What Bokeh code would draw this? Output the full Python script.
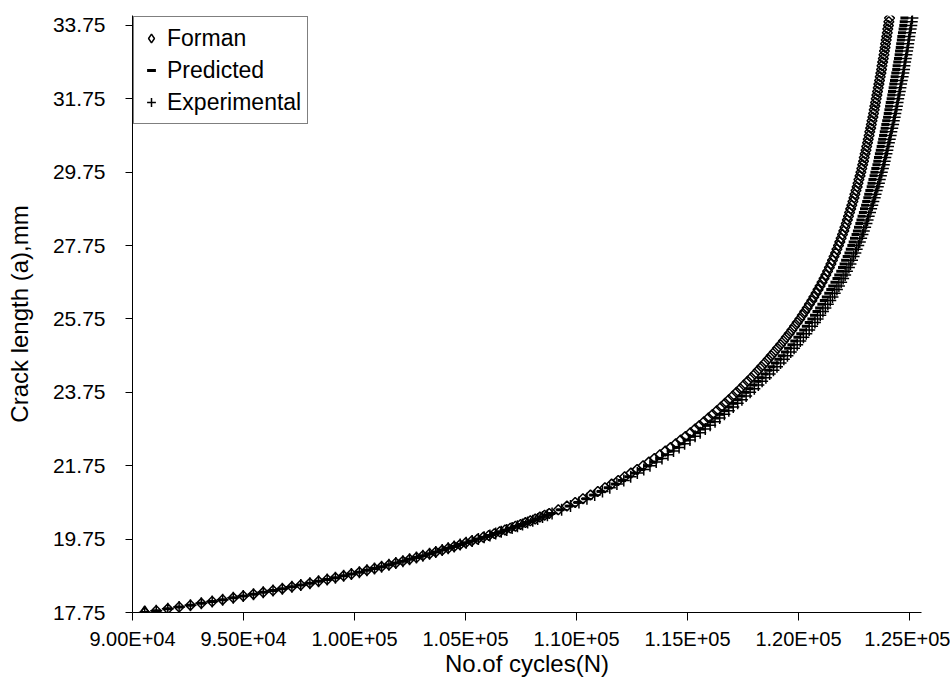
from bokeh.plotting import figure
from bokeh.models import Range1d, FixedTicker, Legend, LegendItem
from bokeh.embed import file_html
from bokeh.resources import INLINE

# crack length a (mm), shared by the three series
crack_length = [
    17.75, 17.80, 17.85, 17.90, 17.95, 18.00, 18.05, 18.10, 18.15, 18.20,
    18.25, 18.30, 18.35, 18.40, 18.45, 18.50, 18.55, 18.60, 18.65, 18.70,
    18.75, 18.80, 18.85, 18.90, 18.95, 19.00, 19.05, 19.10, 19.15, 19.20,
    19.25, 19.30, 19.35, 19.40, 19.45, 19.50, 19.55, 19.60, 19.65, 19.70,
    19.75, 19.80, 19.85, 19.90, 19.95, 20.00, 20.05, 20.10, 20.15, 20.20,
    20.25, 20.30, 20.35, 20.40, 20.45,
    20.55, 20.65, 20.75, 20.85, 20.95,
    21.05, 21.15, 21.25, 21.35, 21.45, 21.55, 21.65, 21.75, 21.85, 21.95,
    22.05, 22.15, 22.25, 22.35, 22.45, 22.55, 22.65, 22.75, 22.85, 22.95,
    23.05, 23.15, 23.25, 23.35, 23.45, 23.55, 23.65, 23.75, 23.85, 23.95,
    24.05, 24.15, 24.25, 24.35, 24.45, 24.55, 24.65, 24.75, 24.85, 24.95,
    25.05, 25.15, 25.25, 25.35, 25.45, 25.55, 25.65, 25.75, 25.85, 25.95,
    26.05, 26.15, 26.25, 26.35, 26.45, 26.55, 26.65, 26.75, 26.85, 26.95,
    27.05, 27.15, 27.25, 27.35, 27.45, 27.55, 27.65, 27.75, 27.85, 27.95,
    28.05, 28.15, 28.25, 28.35, 28.45, 28.55, 28.65, 28.75, 28.85, 28.95,
    29.05, 29.15, 29.25, 29.35, 29.45, 29.55, 29.65, 29.75, 29.85, 29.95,
    30.05, 30.15, 30.25, 30.35, 30.45, 30.55, 30.65, 30.75, 30.85, 30.95,
    31.05, 31.15, 31.25, 31.35, 31.45, 31.55, 31.65, 31.75, 31.85, 31.95,
    32.05, 32.15, 32.25, 32.35, 32.45, 32.55, 32.65, 32.75, 32.85, 32.95,
    33.05, 33.15, 33.25, 33.35, 33.45, 33.55, 33.65, 33.75, 33.85, 33.95,
]

# number of cycles N for each crack length
forman = [
    90550, 91070, 91590, 92100, 92610, 93100, 93590, 94060, 94540, 94990,
    95450, 95890, 96330, 96750, 97180, 97580, 97990, 98380, 98770, 99140,
    99510, 99860, 100220, 100560, 100900, 101220, 101550, 101860, 102180, 102480,
    102790, 103080, 103380, 103660, 103950, 104220, 104490, 104750, 105010, 105280,
    105540, 105800, 106050, 106300, 106540, 106780, 107020, 107250, 107480, 107700,
    107920, 108140, 108350, 108560, 108770,
    109180, 109570, 109940, 110290, 110630,
    110960, 111280, 111580, 111880, 112170, 112450, 112730, 113000, 113260, 113510,
    113760, 114000, 114240, 114470, 114690, 114910, 115130, 115340, 115540, 115740,
    115940, 116130, 116320, 116510, 116690, 116860, 117040, 117210, 117380, 117540,
    117710, 117870, 118030, 118180, 118330, 118480, 118630, 118770, 118910, 119050,
    119190, 119320, 119450, 119580, 119700, 119820, 119940, 120060, 120170, 120280,
    120390, 120490, 120600, 120690, 120790, 120880, 120970, 121060, 121150, 121230,
    121310, 121390, 121460, 121530, 121600, 121670, 121730, 121800, 121860, 121920,
    121980, 122040, 122090, 122150, 122200, 122250, 122300, 122350, 122400, 122450,
    122500, 122540, 122590, 122640, 122680, 122720, 122770, 122810, 122850, 122890,
    122930, 122960, 123000, 123040, 123070, 123110, 123140, 123180, 123210, 123250,
    123280, 123310, 123350, 123380, 123410, 123440, 123470, 123500, 123530, 123560,
    123590, 123620, 123650, 123680, 123710, 123740, 123760, 123790, 123820, 123850,
    123870, 123900, 123920, 123950, 123970, 124000, 124020, 124050, 124070, 124100,
]

predicted = [
    90550, 91070, 91590, 92100, 92610, 93100, 93590, 94060, 94540, 94990,
    95450, 95890, 96330, 96750, 97180, 97580, 97990, 98380, 98770, 99140,
    99510, 99860, 100220, 100560, 100900, 101220, 101550, 101860, 102180, 102480,
    102790, 103080, 103380, 103660, 103950, 104220, 104490, 104760, 105020, 105290,
    105560, 105820, 106080, 106340, 106590, 106830, 107070, 107310, 107540, 107770,
    107990, 108210, 108430, 108650, 108860,
    109270, 109670, 110050, 110410, 110760,
    111090, 111420, 111740, 112050, 112340, 112630, 112920, 113200, 113470, 113730,
    113990, 114240, 114490, 114730, 114960, 115190, 115420, 115640, 115850, 116060,
    116270, 116470, 116670, 116870, 117060, 117240, 117430, 117610, 117790, 117960,
    118140, 118300, 118470, 118630, 118780, 118940, 119090, 119240, 119390, 119530,
    119680, 119810, 119950, 120080, 120210, 120330, 120460, 120580, 120700, 120810,
    120930, 121030, 121140, 121230, 121340, 121430, 121520, 121620, 121710, 121790,
    121880, 121960, 122030, 122100, 122170, 122250, 122310, 122380, 122440, 122500,
    122570, 122630, 122680, 122740, 122790, 122840, 122900, 122950, 123000, 123050,
    123100, 123140, 123190, 123250, 123290, 123330, 123380, 123420, 123460, 123510,
    123550, 123580, 123620, 123660, 123700, 123740, 123770, 123810, 123840, 123880,
    123910, 123950, 123990, 124020, 124050, 124080, 124110, 124150, 124180, 124210,
    124240, 124270, 124300, 124330, 124360, 124400, 124420, 124450, 124480, 124510,
    124530, 124560, 124580, 124610, 124630, 124660, 124690, 124720, 124740, 124770,
]

experimental = [
    90550, 91070, 91590, 92100, 92610, 93100, 93590, 94060, 94540, 94990,
    95450, 95890, 96330, 96750, 97180, 97580, 97990, 98380, 98770, 99140,
    99510, 99860, 100220, 100560, 100900, 101220, 101550, 101860, 102180, 102480,
    102790, 103080, 103380, 103660, 103950, 104220, 104490, 104760, 105030, 105300,
    105580, 105840, 106100, 106360, 106610, 106860, 107100, 107340, 107570, 107800,
    108030, 108250, 108470, 108690, 108900,
    109330, 109730, 110110, 110470, 110820,
    111170, 111500, 111820, 112130, 112440, 112740, 113030, 113310, 113590, 113850,
    114120, 114370, 114620, 114870, 115110, 115340, 115570, 115800, 116020, 116240,
    116450, 116660, 116860, 117060, 117260, 117450, 117640, 117820, 118010, 118190,
    118360, 118530, 118700, 118870, 119030, 119190, 119340, 119500, 119650, 119800,
    119940, 120080, 120220, 120350, 120480, 120610, 120740, 120860, 120980, 121100,
    121210, 121320, 121430, 121530, 121630, 121730, 121820, 121920, 122010, 122100,
    122180, 122270, 122340, 122410, 122480, 122560, 122620, 122690, 122760, 122820,
    122880, 122940, 123000, 123060, 123110, 123160, 123220, 123270, 123320, 123370,
    123430, 123470, 123520, 123570, 123620, 123660, 123710, 123750, 123800, 123840,
    123880, 123910, 123960, 124000, 124030, 124070, 124110, 124150, 124180, 124220,
    124260, 124290, 124330, 124360, 124400, 124430, 124460, 124490, 124530, 124560,
    124590, 124620, 124650, 124690, 124720, 124750, 124770, 124800, 124830, 124860,
    124890, 124920, 124940, 124970, 124990, 125020, 125050, 125080, 125100, 125130,
]

x_ticks = [90000, 95000, 100000, 105000, 110000, 115000, 120000, 125000]
x_tick_labels = ["9.00E+04", "9.50E+04", "1.00E+05", "1.05E+05",
                 "1.10E+05", "1.15E+05", "1.20E+05", "1.25E+05"]
y_ticks = [17.75, 19.75, 21.75, 23.75, 25.75, 27.75, 29.75, 31.75, 33.75]
y_tick_labels = ["17.75", "19.75", "21.75", "23.75", "25.75",
                 "27.75", "29.75", "31.75", "33.75"]

series_names = ["Forman", "Predicted", "Experimental"]

FONT = "Liberation Sans"

p = figure(width=950, height=684, output_backend="svg", toolbar_location=None,
           x_range=Range1d(90000, 125540), y_range=Range1d(17.75, 34.02),
           min_border_left=132, min_border_right=29, min_border_top=15,
           min_border_bottom=72)
p.outline_line_color = None
p.xgrid.visible = False
p.ygrid.visible = False
p.background_fill_color = "white"
p.border_fill_color = "white"

# Forman: open diamonds (squares turned by 45 degrees)
r_f = p.scatter(forman, crack_length, marker="square", angle=0.785398, size=7,
                line_color="black", fill_color=None, line_width=1.5)
r_p = p.scatter(predicted, crack_length, marker="dash", size=8,
                line_color="black", line_width=3)
r_e = p.scatter(experimental, crack_length, marker="cross", size=12,
                line_color="black", line_width=1.5)
# legend swatch for Forman: the first Forman point drawn with a diamond glyph
r_f_key = p.scatter(forman[:1], crack_length[:1], marker="diamond", size=13,
                    line_color="black", fill_color=None, line_width=1.5)

# axes
p.xaxis.ticker = FixedTicker(ticks=x_ticks)
p.xaxis.major_label_overrides = dict(zip(x_ticks, x_tick_labels))
p.yaxis.ticker = FixedTicker(ticks=y_ticks)
p.yaxis.major_label_overrides = dict(zip(y_ticks, y_tick_labels))

for ax in (p.xaxis[0], p.yaxis[0]):
    ax.axis_line_color = "black"
    ax.axis_line_width = 1
    ax.major_tick_line_color = "black"
    ax.major_tick_in = 0
    ax.minor_tick_line_color = None
    ax.major_label_text_font = FONT
    ax.major_label_text_color = "black"
    ax.axis_label_text_font = FONT
    ax.axis_label_text_font_size = "24px"
    ax.axis_label_text_font_style = "normal"
    ax.axis_label_text_color = "black"

p.xaxis.major_label_text_font_size = "20px"
p.yaxis.major_label_text_font_size = "21px"

p.xaxis.major_tick_out = 8
p.xaxis.major_label_standoff = 7
p.xaxis.axis_label = "No.of cycles(N)"
p.xaxis.axis_label_standoff = -3

p.yaxis.major_tick_out = 7
p.yaxis.major_label_standoff = 20
p.yaxis.axis_label = "Crack length (a),mm"
p.yaxis.axis_label_standoff = 17

legend = Legend(items=[LegendItem(label=series_names[0], renderers=[r_f_key]),
                       LegendItem(label=series_names[1], renderers=[r_p]),
                       LegendItem(label=series_names[2], renderers=[r_e])],
                location="top_left")
legend.margin = 1
legend.padding = 6
legend.spacing = 2
legend.glyph_width = 22
legend.glyph_height = 30
legend.label_height = 30
legend.label_standoff = 5
legend.label_text_font = FONT
legend.label_text_font_size = "23px"
legend.label_text_color = "black"
legend.border_line_color = "black"
legend.border_line_width = 1
legend.background_fill_color = "white"
legend.background_fill_alpha = 1.0
p.add_layout(legend)

open("out.html", "w").write(file_html(p, INLINE))
